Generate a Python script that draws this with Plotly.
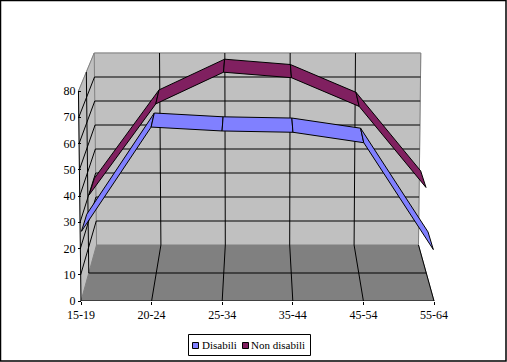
import plotly.graph_objects as go

categories = ["15-19", "20-24", "25-34", "35-44", "45-54", "55-64"]
disabili = [25, 65, 63.5, 63, 59, 18]
non_disabili = [29.5, 66, 78.7, 76.5, 65, 32.5]
y_ticks = [0, 10, 20, 30, 40, 50, 60, 70, 80]
series_names = ["Disabili", "Non disabili"]
series_colors = ["#8080FF", "#802060"]

W, H = 507, 362
LEFT, RIGHT, BOTTOM, TOP = 81, 434, 301, 91
FONT = "Liberation Serif"
N = len(categories) - 1
VMAX = y_ticks[-1]
X_UNIT = (RIGHT - LEFT) / N
Y_UNIT = (BOTTOM - TOP) / VMAX


def px(x):
    return x / W


def py(y):
    return 1 - y / H


def proj(i, v, d):
    """Oblique-perspective projection of (category, value, depth) to axis units."""
    x = N / 2 + (i - N / 2) * (1 - 0.088 * d) * (1 + 0.00018 * v)
    y = 21.33 * d + v * (1 - 0.0857 * d)
    return x, y


def poly(points):
    xy = [proj(*p) for p in points]
    return [a for a, _ in xy], [b for _, b in xy]


fig = go.Figure()


def area(points, fill, line=None):
    xs, ys = poly(points + points[:1])
    fig.add_trace(go.Scatter(x=xs, y=ys, mode="lines", fill="toself", fillcolor=fill,
                             line=dict(color=line or fill, width=1),
                             showlegend=False, hoverinfo="skip"))


def seg(a, b, color="#000000"):
    xs, ys = poly([a, b])
    fig.add_trace(go.Scatter(x=xs, y=ys, mode="lines", line=dict(color=color, width=1),
                             showlegend=False, hoverinfo="skip"))


# walls and floor
area([(0, 0, 1), (N, 0, 1), (N, VMAX, 1), (0, VMAX, 1)], "#C0C0C0")
area([(0, 0, 0), (0, 0, 1), (0, VMAX, 1), (0, VMAX, 0)], "#C0C0C0")
area([(0, 0, 0), (N, 0, 0), (N, 0, 1), (0, 0, 1)], "#808080")

# wall outline
seg((0, VMAX, 0), (0, VMAX, 1), "#808080")
seg((0, VMAX, 1), (N, VMAX, 1), "#808080")
seg((N, VMAX, 1), (N, 0, 1), "#808080")
seg((0, VMAX, 1), (0, 0, 1), "#808080")

# grid
for v in y_ticks[1:-1]:
    seg((0, v, 1), (N, v, 1))
    seg((0, v, 0), (0, v, 1))
seg((0, VMAX, 0.5), (0, 0, 0.5))
seg((0, 0, 0.5), (N, 0, 0.5))
for i in range(1, N + 1):
    seg((i, 0, 0), (i, 0, 1))
    if i < N:
        seg((i, 0, 1), (i, VMAX, 1))

# value axis line and category axis line
seg((0, 0, 0), (0, VMAX, 0))
seg((0, 0, 0), (N, 0, 0))

# ribbons
for values, color, d1, d2 in [(non_disabili, series_colors[1], 0.58, 0.92),
                              (disabili, series_colors[0], 0.08, 0.42)]:
    for k in range(N):
        area([(k, values[k], d1), (k + 1, values[k + 1], d1),
              (k + 1, values[k + 1], d2), (k, values[k], d2)], color, "#000000")

# legend
fig.add_shape(type="rect", xref="paper", yref="paper", x0=px(188.5), x1=px(310.5),
              y0=py(355.5), y1=py(334.5), fillcolor="white", line=dict(color="black", width=1))
for name, color, sx, tx in zip(series_names, series_colors, [192.5, 242.5], [202, 251]):
    fig.add_shape(type="rect", xref="paper", yref="paper", x0=px(sx), x1=px(sx + 6),
                  y0=py(348.5), y1=py(342.5), fillcolor=color, line=dict(color="black", width=1))
    fig.add_annotation(text=name, xref="paper", yref="paper", showarrow=False, x=px(tx),
                       y=py(345), xanchor="left", yanchor="middle", borderpad=0, borderwidth=0,
                       font=dict(family=FONT, size=11, color="black"))

# outer border
fig.add_shape(type="rect", xref="paper", yref="paper", x0=px(0.5), x1=px(506), y0=py(361), y1=py(0.5),
              line=dict(color="black", width=1.5))

fig.update_layout(
    width=W, height=H, margin=dict(l=0, r=0, t=0, b=0, pad=0, autoexpand=False), autosize=False,
    paper_bgcolor="white", plot_bgcolor="white", showlegend=False,
    font=dict(family=FONT, size=12, color="black"),
    xaxis=dict(domain=[0, 1], range=[-LEFT / X_UNIT, (W - LEFT) / X_UNIT], tickmode="array",
               tickvals=list(range(N + 1)), ticktext=categories, ticks="outside",
               ticklen=3, tickcolor="black", tickfont=dict(family=FONT, size=12, color="black"),
               showgrid=False, zeroline=False, showline=False, automargin=False),
    yaxis=dict(domain=[(H - BOTTOM) / H, 1], range=[0, BOTTOM / Y_UNIT], tickmode="array",
               tickvals=y_ticks, ticks="outside", ticklen=3, tickcolor="black",
               anchor="free", position=px(LEFT),
               tickfont=dict(family=FONT, size=12, color="black"),
               showgrid=False, zeroline=False, showline=False, automargin=False),
)

fig.write_html("out.html", config={"displayModeBar": False},
               post_script="document.body.style.margin='0';document.body.style.overflow='hidden';")
